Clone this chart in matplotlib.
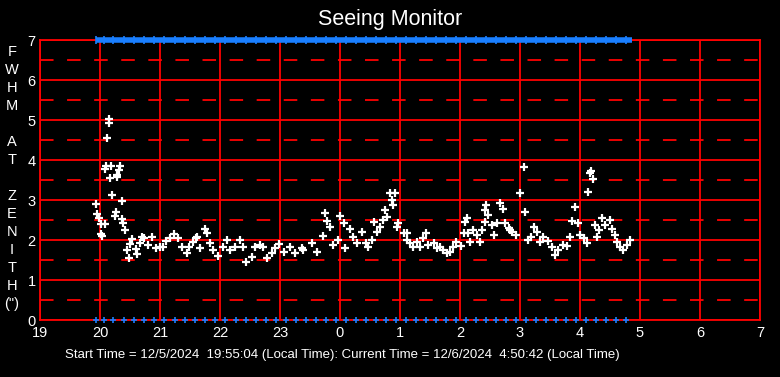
import matplotlib
matplotlib.use("Agg")
import matplotlib.pyplot as plt

plt.rcParams["font.family"] = ["Liberation Sans", "DejaVu Sans"]

# seeing samples: hours since midnight of start day (after midnight -> 24+), FWHM in arcsec
hours = [19.94, 19.955, 19.98, 20.01, 20.02, 20.04, 20.08, 20.09, 20.105, 20.145, 20.155,
         20.12, 20.17, 20.19, 20.2, 20.25, 20.26, 20.28, 20.29, 20.31, 20.33, 20.36, 20.37,
         20.39, 20.42, 20.455, 20.48, 20.5, 20.53, 20.6, 20.62, 20.66, 20.7, 20.73, 20.8,
         20.86, 20.94, 21.0, 21.05, 21.1, 21.16, 21.23, 21.3, 21.36, 21.45, 21.49, 21.55,
         21.6, 21.61, 21.67, 21.75, 21.79, 21.83, 21.89, 21.97, 22.05, 22.11, 22.17, 22.25,
         22.33, 22.39, 22.44, 22.53, 22.58, 22.67, 22.72, 22.78, 22.86, 22.92, 22.98, 23.06,
         23.17, 23.25, 23.36, 23.39, 23.53, 23.61, 23.71, 23.75, 23.78, 23.83, 23.89, 23.96,
         24.0, 24.06, 24.08, 24.17, 24.22, 24.28, 24.36, 24.43, 24.47, 24.53, 24.57, 24.62,
         24.67, 24.72, 24.75, 24.79, 24.83, 24.86, 24.89, 24.91, 24.95, 24.97, 25.06, 25.11,
         25.12, 25.17, 25.22, 25.28, 25.33, 25.39, 25.43, 25.47, 25.56, 25.61, 25.67, 25.72,
         25.78, 25.83, 25.89, 25.94, 26.02, 26.06, 26.08, 26.11, 26.14, 26.17, 26.22, 26.28,
         26.33, 26.37, 26.42, 26.42, 26.44, 26.47, 26.53, 26.57, 26.61, 26.66, 26.71, 26.75,
         26.81, 26.83, 26.86, 26.94, 27.0, 27.06, 27.08, 27.14, 27.19, 27.23, 27.28, 27.33,
         27.39, 27.47, 27.53, 27.58, 27.64, 27.72, 27.78, 27.83, 27.86, 27.92, 27.97, 28.0,
         28.06, 28.11, 28.14, 28.17, 28.19, 28.22, 28.25, 28.28, 28.31, 28.36, 28.42, 28.5,
         28.54, 28.58, 28.61, 28.67, 28.72, 28.78, 28.83]
fwhm = [2.89, 2.64, 2.54, 2.39, 2.15, 2.09, 2.39, 3.77, 3.86, 5.02, 4.93,
        4.54, 3.56, 3.86, 3.12, 2.6, 2.69, 3.58, 3.62, 3.75, 3.86, 2.97, 2.52,
        2.42, 2.25, 1.76, 1.56, 1.89, 2.02, 1.77, 1.65, 1.92, 2.07, 2.05, 1.87,
        2.08, 1.79, 1.83, 1.83, 1.97, 2.04, 2.15, 2.04, 1.83, 1.67, 1.83, 1.96,
        2.04, 2.08, 1.79, 2.27, 2.17, 1.92, 1.75, 1.6, 1.83, 2.0, 1.75, 1.83,
        2.0, 1.83, 1.46, 1.58, 1.83, 1.87, 1.83, 1.54, 1.67, 1.79, 1.9, 1.71,
        1.83, 1.67, 1.79, 1.75, 1.92, 1.71, 2.1, 2.67, 2.48, 2.33, 1.87, 2.0,
        2.6, 2.43, 1.79, 2.27, 2.08, 1.92, 2.21, 1.92, 1.83, 2.0, 2.46, 2.21,
        2.33, 2.5, 2.75, 2.58, 3.17, 3.0, 2.87, 3.17, 2.33, 2.42, 2.17, 2.0,
        2.17, 1.92, 1.83, 1.96, 1.83, 2.04, 2.17, 1.87, 1.92, 1.79, 1.83, 1.75,
        1.67, 1.71, 1.83, 1.96, 1.85, 2.18, 2.46, 2.54, 2.18, 1.96, 2.25, 2.13,
        1.96, 2.25, 2.46, 2.75, 2.87, 2.63, 2.37, 2.13, 2.42, 2.92, 2.77, 2.42,
        2.29, 2.25, 2.21, 2.13, 3.18, 3.82, 2.71, 2.0, 2.08, 2.33, 2.21, 1.96,
        2.07, 1.98, 1.83, 1.63, 1.75, 1.87, 1.85, 2.07, 2.48, 2.83, 2.43, 2.13,
        2.04, 1.92, 3.21, 3.67, 3.73, 3.52, 2.37, 2.08, 2.25, 2.54, 2.37, 2.5,
        2.27, 2.13, 1.96, 1.83, 1.75, 1.87, 2.0]

# status markers (every ~10 min)
mark_hours = [19.93, 20.06, 20.22, 20.4, 20.57, 20.74, 20.9, 21.07, 21.25, 21.42, 21.58,
              21.75, 21.92, 22.09, 22.27, 22.43, 22.6, 22.77, 22.94, 23.1, 23.27, 23.44,
              23.6, 23.77, 23.94, 24.1, 24.27, 24.44, 24.6, 24.77, 24.94, 25.1, 25.27,
              25.44, 25.6, 25.77, 25.94, 26.1, 26.27, 26.44, 26.6, 26.77, 26.94, 27.1,
              27.27, 27.44, 27.6, 27.77, 27.94, 28.1, 28.27, 28.44, 28.6, 28.77]
top_end = 28.87

x_ticks = [19, 20, 21, 22, 23, 24, 25, 26, 27, 28, 29, 30, 31]
x_labels = ["19", "20", "21", "22", "23", "0", "1", "2", "3", "4", "5", "6", "7"]
y_ticks = [0, 1, 2, 3, 4, 5, 6, 7]
ylabel_chars = ["F", "W", "H", "M", "", "A", "T", "", "Z", "E", "N", "I", "T", "H", "(\")"]

RED = "#ff0000"
BLUE = "#1a7fff"

fig = plt.figure(figsize=(7.8, 3.77), dpi=100, facecolor="black")
ax = fig.add_axes([40 / 780, 57 / 377, 720 / 780, 280 / 377], facecolor="black")
ax.set_xlim(19, 31)
ax.set_ylim(0, 7)

for v in x_ticks:
    ax.axvline(v, color=RED, lw=1.3, zorder=1)
for v in y_ticks:
    ax.axhline(v, color=RED, lw=1.3, zorder=1)
for v in [0.5, 1.5, 2.5, 3.5, 4.5, 5.5, 6.5]:
    ax.axhline(v, color=RED, lw=1.3, ls=(0, (7.5, 7.5)), zorder=1)

ax.plot(hours, fwhm, ls="none", marker="+", color="white", ms=6, mew=1.6, zorder=3)
ax.plot(mark_hours, [0] * len(mark_hours), ls="none", marker="+", color=BLUE,
        ms=5, mew=1.2, zorder=4, clip_on=False)
ax.plot(mark_hours + [top_end], [7] * (len(mark_hours) + 1), color=BLUE, lw=4,
        zorder=4, clip_on=False, solid_capstyle="butt")
ax.plot(mark_hours, [7] * len(mark_hours), ls="none", marker="|", color=BLUE,
        ms=6, mew=1.2, zorder=4, clip_on=False)

for s in ax.spines.values():
    s.set_color(RED)
    s.set_linewidth(1.3)

ax.set_xticks(x_ticks)
ax.set_xticklabels(x_labels)
ax.set_yticks(y_ticks)
ax.tick_params(colors="white", labelsize=10.5, length=0)
ax.tick_params(axis="x", pad=4)
ax.tick_params(axis="y", pad=3)

fig.text(0.5, 1 - 20 / 377, "Seeing Monitor", color="white", fontsize=15.5,
         ha="center", va="center")
for i, ch in enumerate(ylabel_chars):
    if ch:
        fig.text(12 / 780, 1 - (52 + 18 * i) / 377, ch, color="white",
                 fontsize=10.5, ha="center", va="center")
fig.text(342 / 780, 1 - 355 / 377,
         "Start Time = 12/5/2024  19:55:04 (Local Time): Current Time = 12/6/2024  4:50:42 (Local Time)",
         color="white", fontsize=9.5, ha="center", va="center")

fig.savefig("out.png", dpi=100, facecolor="black")
